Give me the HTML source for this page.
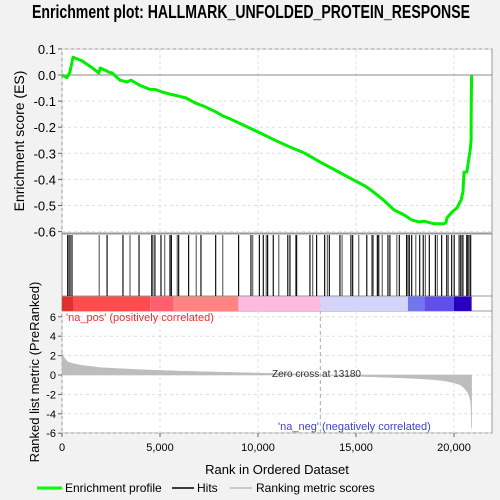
<!DOCTYPE html>
<html><head><meta charset="utf-8"><style>
body{margin:0;background:#f2f2f2;font-family:"Liberation Sans","DejaVu Sans",sans-serif}
svg{display:block}
</style></head><body>
<svg id="c" width="500" height="500" xmlns="http://www.w3.org/2000/svg">
<rect x="0" y="0" width="500" height="500" fill="#f2f2f2"/>
<text x="251" y="18" text-anchor="middle" font-size="18" font-weight="bold" fill="#000" textLength="438" lengthAdjust="spacingAndGlyphs">Enrichment plot: HALLMARK_UNFOLDED_PROTEIN_RESPONSE</text>
<rect x="62" y="49" width="430" height="184" fill="#fff" stroke="#999"/>
<rect x="62" y="234" width="430" height="77" fill="#fff" stroke="#999"/>
<rect x="62" y="311" width="430" height="122" fill="#fff" stroke="#999"/>
<g id="grid"></g>
<g id="bars"></g>
<g id="hits"></g>
<g id="metric"></g>
<g id="curve"></g>
<g id="axes"></g>
<text x="66" y="321" font-size="11" fill="#f03030">'na_pos' (positively correlated)</text>
<text x="278" y="430" font-size="11" fill="#4040d0">'na_neg' (negatively correlated)</text>
<text x="272" y="377" font-size="10" fill="#333">Zero cross at 13180</text>
<text x="24" y="141" transform="rotate(-90 24 141)" text-anchor="middle" font-size="14" fill="#000">Enrichment score (ES)</text>
<text x="39" y="372" transform="rotate(-90 39 372)" text-anchor="middle" font-size="13" fill="#000">Ranked list metric (PreRanked)</text>
<text x="277" y="474" text-anchor="middle" font-size="13" fill="#000">Rank in Ordered Dataset</text>
<g>
<line x1="37" y1="488" x2="62" y2="488" stroke="#00ff00" stroke-width="3"/>
<text x="65" y="492" font-size="12">Enrichment profile</text>
<line x1="172" y1="488" x2="194" y2="488" stroke="#000" stroke-width="1.5"/>
<text x="197" y="492" font-size="12">Hits</text>
<line x1="230" y1="488" x2="252" y2="488" stroke="#bbb" stroke-width="1.5"/>
<text x="256" y="492" font-size="12">Ranking metric scores</text>
</g>
</svg>
<script>
const esRanks=[0,250,400,510,560,1000,1500,1880,1950,2300,2400,2550,2960,3320,3520,3980,4490,4740,5100,5510,5920,6330,6790,7250,7810,8220,8570,9340,10100,10870,11630,12400,13160,13930,14690,15460,15920,16420,16940,17450,17860,18220,18470,18980,19480,19590,19640,19900,20150,20360,20460,20510,20660,20760,20820,20870,20880,20900];
const esValues=[0,-0.01,0.01,0.05,0.068,0.055,0.03,0.008,0.027,0.015,0.01,0.008,-0.02,-0.027,-0.02,-0.04,-0.055,-0.055,-0.065,-0.073,-0.08,-0.088,-0.107,-0.12,-0.14,-0.157,-0.168,-0.195,-0.222,-0.25,-0.276,-0.30,-0.333,-0.364,-0.395,-0.425,-0.45,-0.48,-0.517,-0.536,-0.556,-0.563,-0.56,-0.57,-0.57,-0.565,-0.548,-0.525,-0.51,-0.479,-0.448,-0.372,-0.372,-0.318,-0.29,-0.25,-0.134,0];
const hitRanks=[290,340,410,510,1900,2300,3110,3470,3930,4580,4640,4740,5050,5240,5510,5580,5880,5950,6460,6850,7090,7840,8200,9010,9640,9730,10070,10270,10420,10490,10780,11060,11520,11630,11920,11970,12650,12790,12990,13400,13540,13640,14180,14290,14740,14830,15140,15550,15820,15880,16090,16160,16340,16630,16730,17080,17210,17580,17650,17720,17840,18050,18250,18430,18540,18740,19050,19150,19370,19630,19710,19880,20010,20250,20320,20410,20470,20650,20710,20780,20850];
const metricRanks=[0,100,300,600,1000,2000,3000,4000,6000,8000,10000,12000,13180,14500,16000,17000,18000,19000,19500,20000,20300,20500,20700,20800,20850,20880,20900];
const metricValues=[2.3,1.8,1.35,1.15,1.0,0.75,0.65,0.55,0.4,0.3,0.2,0.1,0,-0.1,-0.2,-0.27,-0.35,-0.48,-0.6,-0.8,-1.0,-1.3,-1.8,-2.3,-2.8,-3.8,-5.5];
const esTicks=[0.1,0,-0.1,-0.2,-0.3,-0.4,-0.5,-0.6];
const metricTicks=[6,4,2,0,-2,-4,-6];
const xTicks=[0,5000,10000,15000,20000];
const xTickLabels=["0","5,000","10,000","15,000","20,000"];
const barStops=[0,600,4500,5700,9000,13180,17650,18500,20000,20900];
const barColors=["#e03030","#ff4c4c","#ff6070","#ff8585","#ffbbdd","#d4d4f8","#7474ee","#6050e8","#2a00c0"];

const NS="http://www.w3.org/2000/svg";
const X=r=>62+r*0.0196;
const YE=v=>75-v*261;
const YM=v=>375-v*9.7;
function mk(tag,attrs,parent){const e=document.createElementNS(NS,tag);for(const k in attrs)e.setAttribute(k,attrs[k]);document.getElementById(parent).appendChild(e);return e;}

xTicks.forEach(t=>{
 [[49,233],[311,433]].forEach(([a,b])=>{const g=mk('line',{x1:X(t),x2:X(t),y1:a,y2:b,stroke:'#ddd','stroke-dasharray':'3,3'},'grid');
 
 });
});
esTicks.forEach(t=>{const g=mk('line',{x1:62,x2:492,y1:YE(t),y2:YE(t),stroke:t===0?'#888':'#ddd','stroke-dasharray':t===0?'':'3,3'},'grid');
 
 });
metricTicks.forEach(t=>{const g=mk('line',{x1:62,x2:492,y1:YM(t),y2:YM(t),stroke:'#ddd','stroke-dasharray':'3,3'},'grid');
 
 });
const zc=mk('line',{x1:X(13180),x2:X(13180),y1:296,y2:433,stroke:'#aaa','stroke-dasharray':'4,3'},'grid');



for(let i=0;i<barColors.length;i++){
 const r=mk('rect',{x:X(barStops[i]),y:296,width:X(barStops[i+1])-X(barStops[i]),height:15,fill:barColors[i]},'bars');
 
 
}
mk('line',{x1:62,x2:492,y1:296,y2:296,stroke:'#999'},'bars');

hitRanks.forEach((h,i)=>{
 const l=mk('line',{x1:X(h),x2:X(h),y1:235,y2:296,stroke:i%3===1?'#666':'#111','stroke-width':1.2},'hits');
 
 
});

let d='M'+X(metricRanks[0])+','+YM(0);
metricRanks.forEach((r,i)=>{d+=' L'+X(r).toFixed(1)+','+YM(metricValues[i]).toFixed(1);});
d+=' L'+X(metricRanks[metricRanks.length-1])+','+YM(0)+' Z';
const ma=mk('path',{d:d,fill:'#bdbdbd',stroke:'#bdbdbd','stroke-width':0.5},'metric');



const pts=esRanks.map((r,i)=>X(r).toFixed(1)+','+YE(esValues[i]).toFixed(1)).join(' ');
const cv=mk('polyline',{points:pts,fill:'none',stroke:'#00ee00','stroke-width':3,'stroke-linejoin':'round'},'curve');



esTicks.forEach(t=>{
 const tx=mk('text',{x:56,y:YE(t)+5,'text-anchor':'end','font-size':13},'axes');
 tx.textContent=t.toFixed(1);
 
 
 mk('line',{x1:58,x2:62,y1:YE(t),y2:YE(t),stroke:'#666'},'axes');
});
metricTicks.forEach(t=>{
 const tx=mk('text',{x:56,y:YM(t)+4,'text-anchor':'end','font-size':11},'axes');
 tx.textContent=String(t);
 
 
 mk('line',{x1:58,x2:62,y1:YM(t),y2:YM(t),stroke:'#666'},'axes');
});
xTicks.forEach((t,i)=>{
 const tx=mk('text',{x:X(t),y:451,'text-anchor':'middle','font-size':11},'axes');
 tx.textContent=xTickLabels[i];
 
 
 mk('line',{x1:X(t),x2:X(t),y1:433,y2:437,stroke:'#666'},'axes');
});
</script>
</body></html>
